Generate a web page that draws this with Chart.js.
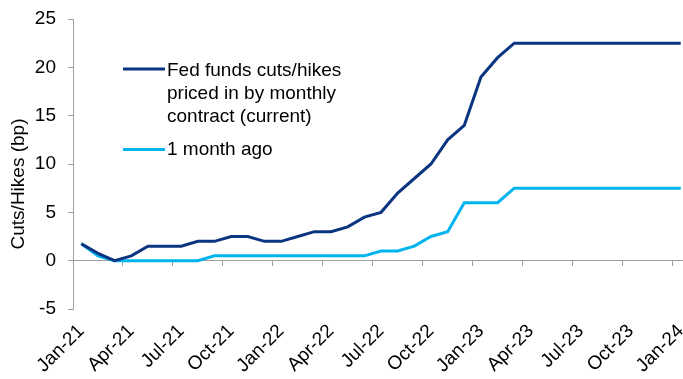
<!DOCTYPE html>
<html>
<head>
<meta charset="utf-8">
<script src="https://cdn.jsdelivr.net/npm/chart.js@4"></script>
<style>
  html, body { margin: 0; padding: 0; background: #fff; overflow: hidden; }
  #wrap { width: 683px; height: 379px; overflow: hidden; }
</style>
</head>
<body>
<div id="wrap">
  <canvas id="chart" width="700" height="379" style="width:700px;height:379px"></canvas>
</div>
<script>
// monthly contracts Jan-21 .. Jan-24
const months = [
    'Jan-21','Feb-21','Mar-21','Apr-21','May-21','Jun-21','Jul-21','Aug-21','Sep-21','Oct-21','Nov-21','Dec-21',
    'Jan-22','Feb-22','Mar-22','Apr-22','May-22','Jun-22','Jul-22','Aug-22','Sep-22','Oct-22','Nov-22','Dec-22',
    'Jan-23','Feb-23','Mar-23','Apr-23','May-23','Jun-23','Jul-23','Aug-23','Sep-23','Oct-23','Nov-23','Dec-23',
    'Jan-24'
];
const current = [
    1.75, 0.75, 0, 0.5, 1.5, 1.5, 1.5, 2, 2, 2.5, 2.5, 2,
    2, 2.5, 3, 3, 3.5, 4.5, 5, 7, 8.5, 10, 12.5, 14,
    19, 21, 22.5, 22.5, 22.5, 22.5, 22.5, 22.5, 22.5, 22.5, 22.5, 22.5,
    22.5
];
const monthAgo = [
    1.75, 0.5, 0, 0, 0, 0, 0, 0, 0.5, 0.5, 0.5, 0.5,
    0.5, 0.5, 0.5, 0.5, 0.5, 0.5, 1, 1, 1.5, 2.5, 3, 6,
    6, 6, 7.5, 7.5, 7.5, 7.5, 7.5, 7.5, 7.5, 7.5, 7.5, 7.5,
    7.5
];
const yTicks = [-5, 0, 5, 10, 15, 20, 25];
const seriesNames = [
    ['Fed funds cuts/hikes', 'priced in by monthly', 'contract (current)'],
    ['1 month ago']
];
const yTitle = 'Cuts/Hikes (bp)';

const FONT = 'Arial, "Liberation Sans", sans-serif';
const AXIS = '#A0A0A0';

// legend drawn inside the plot, multi-line labels
const insideLegend = {
    id: 'insideLegend',
    afterDraw(chart) {
        const ctx = chart.ctx;
        ctx.save();
        ctx.font = '19px ' + FONT;
        ctx.fillStyle = '#000';
        ctx.textAlign = 'left';
        ctx.textBaseline = 'alphabetic';
        const rows = [
            { lineY: 69, baselines: [76, 99, 122] },
            { lineY: 149.5, baselines: [154.5] }
        ];
        chart.data.datasets.forEach((ds, i) => {
            const r = rows[i];
            ctx.strokeStyle = ds.borderColor;
            ctx.lineWidth = 3;
            ctx.beginPath();
            ctx.moveTo(123, r.lineY);
            ctx.lineTo(165, r.lineY);
            ctx.stroke();
            seriesNames[i].forEach((t, j) => ctx.fillText(t, 167, r.baselines[j]));
        });
        // y axis title
        ctx.translate(23.5, 184);
        ctx.rotate(-Math.PI / 2);
        ctx.textAlign = 'center';
        ctx.fillText(yTitle, 0, 0);
        ctx.restore();
    }
};

new Chart(document.getElementById('chart'), {
    type: 'line',
    data: {
        labels: months,
        datasets: [
            {
                label: seriesNames[0].join(' '),
                data: current,
                borderColor: '#0B3580',
                borderWidth: 3,
                pointRadius: 0,
                tension: 0,
                xAxisID: 'x'
            },
            {
                label: seriesNames[1].join(' '),
                data: monthAgo,
                borderColor: '#00B4EE',
                borderWidth: 3,
                pointRadius: 0,
                tension: 0,
                xAxisID: 'x'
            }
        ]
    },
    options: {
        responsive: false,
        animation: false,
        layout: { padding: { top: 19, right: 10, left: 0, bottom: 0 } },
        plugins: {
            legend: { display: false },
            tooltip: { enabled: false }
        },
        scales: {
            x: {
                type: 'category',
                position: 'bottom',
                offset: true,
                grid: { display: false },
                border: { display: false },
                ticks: {
                    autoSkip: false,
                    maxRotation: 45,
                    minRotation: 45,
                    padding: 3,
                    color: '#000',
                    font: { family: FONT, size: 19 },
                    callback: (v, i) => (i % 3 === 0 ? months[i] : null)
                },
                afterFit: (s) => { s.height = 70; }
            },
            // zero line with quarterly tick marks
            x2: {
                type: 'category',
                position: { y: 0 },
                offset: true,
                grid: {
                    offset: true,
                    drawOnChartArea: false,
                    tickLength: 5,
                    lineWidth: 1,
                    color: (c) => (c.index % 3 === 0 ? AXIS : 'rgba(0,0,0,0)')
                },
                border: { display: true, color: AXIS, width: 1 },
                ticks: { display: false, autoSkip: false }
            },
            y: {
                min: -5,
                max: 25,
                afterBuildTicks: (s) => { s.ticks = yTicks.map(v => ({ value: v })); },
                grid: {
                    drawOnChartArea: false,
                    tickLength: 5,
                    color: AXIS
                },
                border: { display: true, color: AXIS, width: 1 },
                ticks: {
                    padding: 12,
                    color: '#000',
                    font: { family: FONT, size: 19 }
                },
                afterFit: (s) => {
                    s.width = 73;
                    s.paddingTop = 0;
                    s.paddingBottom = 0;
                }
            }
        }
    },
    plugins: [insideLegend]
});
</script>
</body>
</html>
